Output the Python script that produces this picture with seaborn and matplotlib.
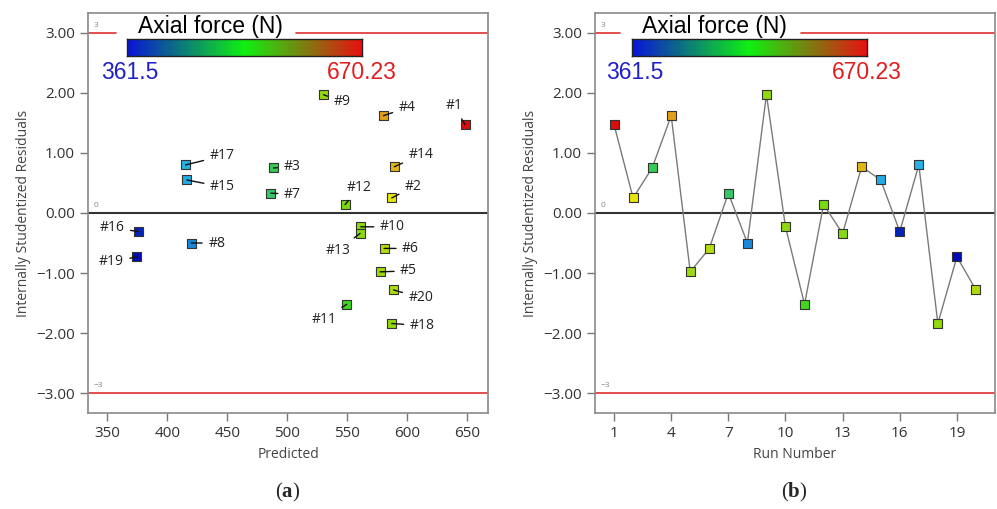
import numpy as np
import pandas as pd
import seaborn as sns
import matplotlib.pyplot as plt
from matplotlib.colors import LinearSegmentedColormap
from matplotlib.ticker import FuncFormatter, MultipleLocator

# Data (runs 1..20)
run = list(range(1, 21))
predicted = [648.3, 587.2, 488.6, 580.3, 577.5, 580.8, 486.4, 420.0, 530.3, 561.4,
             549.7, 548.3, 560.8, 589.4, 416.4, 376.1, 415.3, 587.2, 374.7, 588.6]
residual = [1.47, 0.25, 0.75, 1.62, -0.98, -0.59, 0.33, -0.50, 1.97, -0.23,
            -1.52, 0.14, -0.34, 0.77, 0.55, -0.31, 0.80, -1.84, -0.73, -1.28]
axial_force = [670.23, 591, 500, 605, 563, 572, 491, 412, 560, 558,
               527, 550, 556, 601, 425, 371, 427, 560, 361.5, 569]
force_min, force_max = 361.5, 670.23

df = pd.DataFrame({'Run': run, 'Predicted': predicted,
                   'Residual': residual, 'Force': axial_force})

# colour used for the points and the simpler blend shown in the colour bar
point_cmap = LinearSegmentedColormap.from_list('pts', [
    (0.00, (0.00, 0.05, 0.70)), (0.15, (0.10, 0.50, 0.85)),
    (0.22, (0.15, 0.72, 0.90)), (0.42, (0.20, 0.78, 0.40)),
    (0.54, (0.25, 0.85, 0.10)), (0.65, (0.60, 0.85, 0.05)),
    (0.75, (0.92, 0.90, 0.05)), (0.79, (0.88, 0.62, 0.10)),
    (1.00, (0.85, 0.05, 0.05))])
bar_cmap = LinearSegmentedColormap.from_list('bar', ['#0a14d8', '#10f010', '#e81010'])

# label offsets in pixels (dx, dy, ha) for the predicted plot
label_offsets = {1: (-11, 19, 'center'), 2: (13, 11, 'left'), 3: (10, 1, 'left'),
                 4: (15, 8, 'left'), 5: (20, 1, 'left'), 6: (18, 0, 'left'),
                 7: (13, -1, 'left'), 8: (17, 0, 'left'), 9: (10, -7, 'left'),
                 10: (19, 0, 'left'), 11: (-23, -15, 'center'), 12: (14, 17, 'center'),
                 13: (-22, -17, 'center'), 14: (14, 12, 'left'), 15: (23, -7, 'left'),
                 16: (-14, 4, 'right'), 17: (24, 9, 'left'), 18: (18, -2, 'left'),
                 19: (-13, -5, 'right'), 20: (15, -8, 'left')}

sns.set_style('white')
plt.rcParams['font.family'] = ['Open Sans', 'DejaVu Sans']
plt.rcParams['mathtext.fontset'] = 'custom'
plt.rcParams['mathtext.rm'] = 'Liberation Serif'
plt.rcParams['mathtext.bf'] = 'Liberation Serif:bold'

fig = plt.figure(figsize=(9.97, 5.09), dpi=100)
ax1 = fig.add_axes([0.0883, 0.1886, 0.4012, 0.7859])
ax2 = fig.add_axes([0.5968, 0.1886, 0.4012, 0.7859])

fmt = FuncFormatter(lambda v, p: f'{v:.2f}'.replace('-', '\u2212'))

# (a) residuals vs predicted
sns.scatterplot(data=df, x='Predicted', y='Residual', hue='Force', palette=point_cmap,
                hue_norm=(force_min, force_max), marker='s', s=42, edgecolor='#333333',
                linewidth=0.8, legend=False, ax=ax1, zorder=3)
for r, x, y in zip(run, predicted, residual):
    dx, dy, ha = label_offsets[r]
    ax1.annotate(f'#{r}', (x, y), xytext=(dx, dy), textcoords='offset pixels',
                 ha=ha, va='center', fontsize=10, color='#222222',
                 arrowprops=dict(arrowstyle='-', color='#111111', lw=1, shrinkB=0))
ax1.set_xlim(334, 667.5)
ax1.xaxis.set_major_locator(MultipleLocator(50))
ax1.set_xlabel('Predicted', fontsize=10, color='#444444')

# (b) residuals vs run number
sns.lineplot(data=df, x='Run', y='Residual', color='#7a7a7a', lw=1, ax=ax2, zorder=2)
sns.scatterplot(data=df, x='Run', y='Residual', hue='Force', palette=point_cmap,
                hue_norm=(force_min, force_max), marker='s', s=42, edgecolor='#333333',
                linewidth=0.8, legend=False, ax=ax2, zorder=3)
ax2.set_xlim(0, 21)
ax2.xaxis.set_major_locator(MultipleLocator(3, offset=1))
ax2.xaxis.set_minor_locator(MultipleLocator(1))
ax2.tick_params(axis='x', which='minor', length=4, width=1, color='#777777')
ax2.set_xlabel('Run Number', fontsize=10, color='#444444')

gaps = [(0.07, 0.52), (0.0625, 0.515)]
for ax, (g0, g1) in zip([ax1, ax2], gaps):
    ax.set_ylim(-3.33, 3.33)
    ax.set_yticks([-3, -2, -1, 0, 1, 2, 3])
    ax.yaxis.set_major_formatter(fmt)
    ax.set_ylabel('Internally Studentized Residuals', fontsize=10, color='#444444')
    ax.axhline(0, color='#333333', lw=1.5, zorder=1)
    ax.axhline(-3, color='#e03030', lw=1.2, zorder=1)
    ax.axhline(3, xmax=g0, color='#e03030', lw=1.2, zorder=1)
    ax.axhline(3, xmin=g1, color='#e03030', lw=1.2, zorder=1)
    for yv, t in [(3, '3'), (0, '0'), (-3, '\u22123')]:
        ax.annotate(t, (0, yv), xycoords=('axes fraction', 'data'), xytext=(6, 4),
                    textcoords='offset pixels', fontsize=6, color='#888888', va='bottom')
    ax.tick_params(axis='both', which='major', labelsize=11, labelcolor='#333333',
                   direction='out', length=6, width=1, color='#777777',
                   bottom=True, left=True)
    ax.grid(False)
    for s in ax.spines.values():
        s.set_color('#8a8a8a')
        s.set_linewidth(1.2)

# colour bar legends drawn on top of each panel
for cx, tx in [(0.1274, 0.211), (0.6339, 0.717)]:
    cax = fig.add_axes([cx, 0.890, 0.2357, 0.034])
    cax.imshow(np.linspace(0, 1, 256)[None, :], cmap=bar_cmap, aspect='auto')
    cax.set_xticks([])
    cax.set_yticks([])
    for s in cax.spines.values():
        s.set_color('#222222')
        s.set_linewidth(1)
    fig.text(tx, 0.948, 'Axial force (N)', fontsize=16.5, family='Liberation Sans',
             ha='center', va='center', color='black')
    fig.text(cx + 0.003, 0.857, f'{force_min}', fontsize=16.5, family='Liberation Sans',
             ha='center', va='center', color='#2020c8')
    fig.text(cx + 0.2357, 0.857, f'{force_max}', fontsize=16.5,
             family='Liberation Sans', ha='center', va='center', color='#e02020')

fig.text(0.289, 0.033, r'($\mathbf{a}$)', fontsize=15, family='Liberation Serif',
         ha='center', va='center')
fig.text(0.797, 0.033, r'($\mathbf{b}$)', fontsize=15, family='Liberation Serif',
         ha='center', va='center')

fig.savefig('out.png', dpi=100)
